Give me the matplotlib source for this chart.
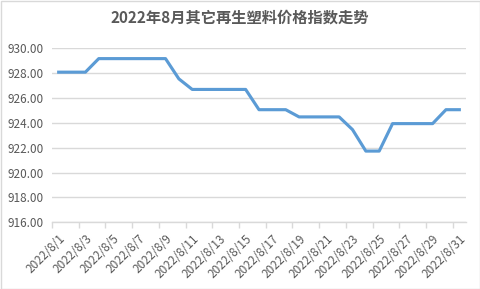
import matplotlib
matplotlib.use("Agg")
import matplotlib.pyplot as plt
from matplotlib.patches import Rectangle
from matplotlib.ticker import FixedLocator

plt.rcParams['font.family'] = ['Noto Sans CJK SC', 'DejaVu Sans']

title = "2022年8月其它再生塑料价格指数走势"
days = list(range(1, 32))
values = [928.08, 928.08, 928.08,
          929.17, 929.17, 929.17, 929.17, 929.17, 929.17,
          927.54,
          926.69, 926.69, 926.69, 926.69, 926.69,
          925.06, 925.06, 925.06,
          924.48, 924.48, 924.48, 924.48,
          923.46,
          921.73, 921.73,
          923.94, 923.94, 923.94, 923.94,
          925.06, 925.06]
label_days = list(range(1, 32, 2))
tick_labels = [f"2022/8/{d}" for d in label_days]
yticks = [916, 918, 920, 922, 924, 926, 928, 930]

W, H = 481, 289
fig = plt.figure(figsize=(W / 100, H / 100), dpi=100)
fig.patch.set_facecolor('white')
fig.add_artist(Rectangle((0.5 / W, 0.5 / H), 1 - 1.5 / W, 1 - 1.5 / H,
                         transform=fig.transFigure, fill=False,
                         edgecolor='#d9d9d9', linewidth=1.0))

ax = fig.add_axes([52 / W, (H - 222.3) / H, (466 - 52) / W, (222.3 - 48.3) / H])
ax.plot(days, values, color='#5b9bd5', linewidth=2.25, solid_joinstyle='round')

ax.set_xlim(0.5, 31.5)
ax.set_ylim(916, 930)
ax.set_yticks(yticks)
ax.set_yticklabels([f"{v:.2f}" for v in yticks], color='#595959', fontsize=8.5)
ax.tick_params(axis='y', length=0, pad=6)

ax.set_xticks(label_days)
ax.set_xticklabels(tick_labels, rotation=45, ha='right', va='top',
                   rotation_mode='anchor', color='#595959', fontsize=8.5)
ax.tick_params(axis='x', which='major', length=0, pad=7)
ax.xaxis.set_minor_locator(FixedLocator([d - 0.5 for d in label_days]))
ax.tick_params(axis='x', which='minor', length=4, color='#d9d9d9', width=1)

ax.grid(axis='y', color='#d9d9d9', linewidth=1)
ax.set_axisbelow(True)
for s in ['top', 'right', 'left']:
    ax.spines[s].set_visible(False)
ax.spines['bottom'].set_color('#d9d9d9')
ax.spines['bottom'].set_linewidth(1)

fig.text(240 / W, 1 - 18 / H, title, ha='center', va='center',
         fontsize=11, fontweight='bold', color='#595959')

fig.savefig('out.png', dpi=100)
